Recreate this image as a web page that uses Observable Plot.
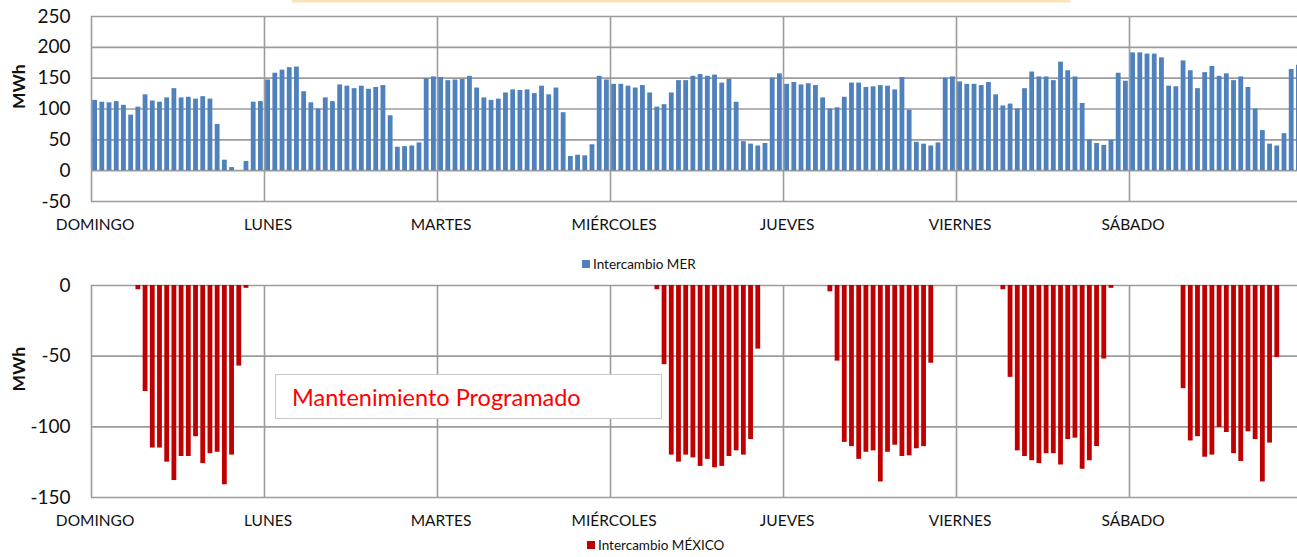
<!DOCTYPE html>
<html>
<head>
<meta charset="utf-8">
<script src="https://cdn.jsdelivr.net/npm/d3@7"></script>
<script src="https://cdn.jsdelivr.net/npm/@observablehq/plot@0.6"></script>
<style>
  html, body { margin: 0; padding: 0; background: #fff; }
  #root { position: relative; width: 1297px; height: 557px; overflow: hidden; font-family: Lato, "Open Sans", sans-serif; color: #111; }
  .panel { position: absolute; left: 0; }
  .legend { position: absolute; font-size: 13.5px; display: flex; align-items: center; white-space: nowrap; }
  .legend .sw { width: 8px; height: 8px; margin-right: 3px; display: inline-block; }
  #note { position: absolute; left: 275px; top: 374px; width: 387px; height: 45px; border: 1.5px solid #c9c9c9; background: #fff; color: #ff0000; font-size: 23.5px; display: flex; align-items: center; padding-left: 16px; box-sizing: border-box; }
  #strip { position: absolute; left: 292px; top: 0; width: 778px; height: 2px; background: #fbe3b8; box-shadow: 0 1px 2px #fcecd0; }
</style>
</head>
<body>
<div id="root">
  <div id="strip"></div>
  <div id="top" class="panel" style="top:0"></div>
  <div id="bottom" class="panel" style="top:250px"></div>
  <div class="legend" style="left:582px; top:256px;"><span class="sw" style="background:#4f81bd"></span>Intercambio MER</div>
  <div class="legend" style="left:587px; top:537px;"><span class="sw" style="background:#c00000"></span>Intercambio MÉXICO</div>
  <div id="note">Mantenimiento Programado</div>
</div>
<script>
// Day labels (one per 24 hourly categories)
const days = ["DOMINGO", "LUNES", "MARTES", "MIÉRCOLES", "JUEVES", "VIERNES", "SÁBADO"];

// Intercambio MER (MWh), hourly, 24 values per day
const mer = [
  114, 111, 110, 112, 106, 90, 103, 123, 113, 111, 118, 133, 118, 119, 116, 120, 116, 75, 17, 5, 0, 15, 111, 112,
  147, 158, 163, 167, 168, 128, 110, 100, 118, 112, 139, 137, 133, 137, 132, 135, 138, 89, 38, 39, 40, 45, 149, 152,
  151, 146, 147, 148, 153, 134, 118, 114, 116, 126, 131, 130, 131, 125, 137, 123, 134, 94, 23, 25, 24, 42, 153, 147,
  140, 140, 137, 134, 138, 126, 103, 107, 126, 146, 146, 153, 156, 153, 155, 142, 148, 111, 47, 43, 40, 44, 150, 157,
  140, 143, 139, 141, 138, 118, 100, 102, 119, 142, 142, 135, 136, 138, 137, 131, 151, 98, 46, 43, 40, 45, 150, 152,
  144, 140, 140, 138, 143, 123, 105, 108, 100, 133, 160, 152, 152, 146, 176, 162, 152, 109, 50, 44, 41, 49, 158, 145,
  191, 191, 189, 189, 183, 137, 136, 178, 162, 133, 159, 169, 153, 157, 146, 152, 135, 100, 65, 43, 40, 60, 164, 171
];

// Intercambio MÉXICO (MWh), hourly, null = no exchange (maintenance / off hours)
const _ = null;
const mexico = [
  _, _, _, _, _, _, -3, -75, -115, -115, -125, -138, -121, -121, -107, -126, -119, -118, -141, -120, -57, -2, _, _,
  _, _, _, _, _, _, _, _, _, _, _, _, _, _, _, _, _, _, _, _, _, _, _, _,
  _, _, _, _, _, _, _, _, _, _, _, _, _, _, _, _, _, _, _, _, _, _, _, _,
  _, _, _, _, _, _, -3, -56, -120, -125, -120, -122, -128, -123, -129, -128, -121, -117, -120, -109, -45, _, _, _,
  _, _, _, _, _, _, -4.5, -53.5, -111, -114, -123, -118, -117, -139, -118, -113, -121, -120.5, -115.5, -114, -55, _, _, _,
  _, _, _, _, _, _, -3, -65, -117, -121, -124, -126, -119, -119, -127, -109, -108, -130, -124, -114, -52, -2, _, _,
  _, _, _, _, _, _, _, -73, -110, -107, -121.5, -120, -100.5, -104, -119, -124.5, -103.5, -109, -139, -111.5, -51, _, _, _
];

const merTicks = [-50, 0, 50, 100, 150, 200, 250];
const mexTicks = [-150, -100, -50, 0];

const merData = mer.map((v, i) => ({i, v}));
const mexData = mexico.map((v, i) => ({i, v})).filter(d => d.v !== null);

const nHours = mer.length;
const dayStarts = days.map((d, k) => k * 24);
const dayCenters = days.map((d, k) => k * 24 + 0.5);
const GRID = "#9c9c9c";
const FONT = "Lato, 'Open Sans', sans-serif";
const fmtY = d => (d < 0 ? "-" + Math.abs(d) : String(d));

function panel({data, fill, yDomain, yTicks, height, marginTop, marginBottom}) {
  return Plot.plot({
    width: 1297,
    height,
    marginLeft: 91,
    marginRight: 0,
    marginTop,
    marginBottom,
    style: {fontFamily: FONT, color: "#111", background: "transparent", overflow: "visible"},
    x: {domain: [0, nHours], range: [91, 1302]},
    y: {domain: yDomain},
    marks: [
      Plot.ruleY(yTicks, {stroke: GRID, strokeWidth: 1.6}),
      Plot.ruleX(dayStarts, {stroke: GRID, strokeWidth: 1.6}),
      Plot.rectY(data, {x1: "i", x2: d => d.i + 1, y: "v", fill, insetLeft: 1.2, insetRight: 1.2}),
      Plot.axisY({ticks: yTicks, tickFormat: fmtY, tickSize: 0, tickPadding: 21, fontSize: 19, label: null}),
      Plot.axisX({ticks: dayCenters, tickFormat: d => days[Math.floor(d / 24)], tickSize: 0, tickPadding: 17, fontSize: 15.5, label: null}),
      Plot.text(["MWh"], {frameAnchor: "left", dx: -72, rotate: -90, fontWeight: "bold", fontSize: 17.5, fill: "#111"})
    ]
  });
}

document.getElementById("top").append(panel({
  data: merData, fill: "#4f81bd", yDomain: [-50, 250], yTicks: merTicks,
  height: 245, marginTop: 16, marginBottom: 44
}));

document.getElementById("bottom").append(panel({
  data: mexData, fill: "#c00000", yDomain: [-150, 0], yTicks: mexTicks,
  height: 307, marginTop: 35, marginBottom: 60
}));
</script>
</body>
</html>
